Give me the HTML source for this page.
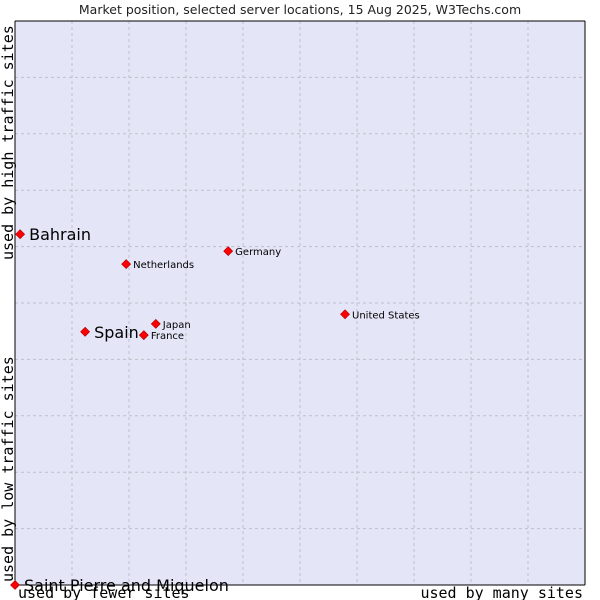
<!DOCTYPE html>
<html><head><meta charset="utf-8"><style>
html,body{margin:0;padding:0;background:#fff;width:600px;height:600px;overflow:hidden}
</style></head><body>
<svg width="600" height="600" xmlns="http://www.w3.org/2000/svg">
<text x="300" y="14" text-anchor="middle" font-family="DejaVu Sans, sans-serif" font-size="12.5" fill="#222">Market position, selected server locations, 15 Aug 2025, W3Techs.com</text>
<rect x="15" y="21" width="570" height="564" fill="#e4e6f8"/>
<g id="grid"></g>
<line x1="15" y1="21" x2="15" y2="585" stroke="#000"/>
<line x1="15" y1="585" x2="585" y2="585" stroke="#000"/>
<line x1="15" y1="21" x2="585" y2="21" stroke="#000"/>
<line x1="585" y1="21" x2="585" y2="585" stroke="#000"/>
<text x="18" y="598" font-family="DejaVu Sans Mono, monospace" font-size="15" fill="#000">used by fewer sites</text>
<text x="583" y="598" text-anchor="end" font-family="DejaVu Sans Mono, monospace" font-size="15" fill="#000">used by many sites</text>
<text transform="translate(13,582) rotate(-90)" font-family="DejaVu Sans Mono, monospace" font-size="15" fill="#000">used by low traffic sites</text>
<text transform="translate(13,260) rotate(-90)" font-family="DejaVu Sans Mono, monospace" font-size="15" fill="#000">used by high traffic sites</text>
<g id="points"></g>
</svg>
<script>
const countries=["Bahrain","Netherlands","Germany","United States","Japan","France","Spain","Saint Pierre and Miquelon"];
const xValues=[0.9,19.5,37.4,57.9,24.7,22.6,12.3,0];
const yValues=[62.2,56.9,59.2,48.0,46.3,44.3,44.9,0];
const highlighted=[true,false,false,false,false,false,true,true];
const NS="http://www.w3.org/2000/svg";
const L=15,T=21,W=570,H=564;
const sx=v=>L+v/100*W, sy=v=>T+H-v/100*H;
const grid=document.getElementById('grid');
for(let i=1;i<10;i++){
 const v=document.createElementNS(NS,'line');
 v.setAttribute('x1',sx(i*10));v.setAttribute('x2',sx(i*10));v.setAttribute('y1',T);v.setAttribute('y2',T+H);
 v.setAttribute('stroke','#c0c0c8');v.setAttribute('stroke-dasharray','3,3');
 
 
 grid.appendChild(v);
 const h=document.createElementNS(NS,'line');
 h.setAttribute('y1',sy(i*10));h.setAttribute('y2',sy(i*10));h.setAttribute('x1',L);h.setAttribute('x2',L+W);
 h.setAttribute('stroke','#c0c0c8');h.setAttribute('stroke-dasharray','3,3');
 
 
 grid.appendChild(h);
}
const pts=document.getElementById('points');
countries.forEach((c,i)=>{
 const x=sx(xValues[i]),y=sy(yValues[i]);
 const d=document.createElementNS(NS,'path');
 d.setAttribute('d',`M${x} ${y-4.5}L${x+4.5} ${y}L${x} ${y+4.5}L${x-4.5} ${y}Z`);
 d.setAttribute('fill','#f00');d.setAttribute('stroke','#a00');d.setAttribute('stroke-width','0.6');
 
 
 pts.appendChild(d);
 const t=document.createElementNS(NS,'text');
 const big=highlighted[i];
 t.setAttribute('x',x+(big?9:7));t.setAttribute('y',y+(big?6:4));
 t.setAttribute('font-family','DejaVu Sans, sans-serif');t.setAttribute('font-size',big?16:10);
 t.setAttribute('fill','#000');t.textContent=c;
 
 
 pts.appendChild(t);
});
</script>
</body></html>
